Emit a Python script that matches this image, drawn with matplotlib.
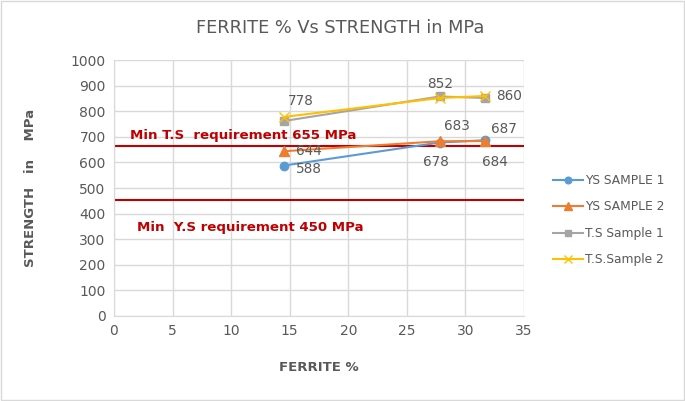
import matplotlib.pyplot as plt

ferrite = [14.5, 27.8, 31.7]
ys1 = [588, 678, 687]
ys2 = [644, 683, 684]
ts1 = [762, 858, 852]
ts2 = [778, 852, 860]

ts_min = 665
ys_min = 452

fig = plt.figure(figsize=(6.85, 4.01), dpi=100)
fig.patch.set_facecolor('white')
ax = fig.add_axes([0.1664, 0.212, 0.5986, 0.638])

gray = '#595959'
ax.plot(ferrite, ys1, color='#5B9BD5', marker='o', markersize=6, lw=1.5, label='YS SAMPLE 1', zorder=3)
ax.plot(ferrite, ys2, color='#ED7D31', marker='^', markersize=7, lw=1.5, label='YS SAMPLE 2', zorder=3)
ax.plot(ferrite, ts1, color='#A5A5A5', marker='s', markersize=6, lw=1.5, label='T.S Sample 1', zorder=3)
ax.plot(ferrite, ts2, color='#FFC000', marker='x', markersize=7, lw=1.5, label='T.S.Sample 2', zorder=4)

ax.axhline(ts_min, color='#C00000', lw=1.5, zorder=2)
ax.axhline(ys_min, color='#C00000', lw=1.5, zorder=2)

ax.set_xlim(0, 35)
ax.set_ylim(0, 1000)
ax.set_xticks(range(0, 36, 5))
ax.set_yticks(range(0, 1001, 100))
ax.grid(True, color='#D9D9D9', lw=1)
ax.set_axisbelow(True)
for s in ['top', 'right']:
    ax.spines[s].set_visible(False)
for s in ['left', 'bottom']:
    ax.spines[s].set_color('#D9D9D9')
ax.tick_params(colors=gray, labelsize=10, length=0, pad=6)

lab = dict(color=gray, fontsize=9.8, textcoords='offset points', va='center')
p = 0.72  # px -> pt
ax.annotate(str(ys1[0]), (ferrite[0], ys1[0]), xytext=(12*p, -3*p), ha='left', **lab)
ax.annotate(str(ys2[0]), (ferrite[0], ys2[0]), xytext=(12*p, 0), ha='left', **lab)
ax.annotate(str(ts2[0]), (ferrite[0], ts2[0]), xytext=(4*p, 16*p), ha='left', **lab)
ax.annotate(str(ys2[1]), (ferrite[1], ys2[1]), xytext=(17*p, 15*p), ha='center', **lab)
ax.annotate(str(ys1[1]), (ferrite[1], ys1[1]), xytext=(-4*p, -19*p), ha='center', **lab)
ax.annotate(str(ts2[1]), (ferrite[1], ts2[1]), xytext=(0, 14*p), ha='center', **lab)
ax.annotate(str(ts2[2]), (ferrite[2], ts2[2]), xytext=(11*p, 0), ha='left', **lab)
ax.annotate(str(ys1[2]), (ferrite[2], ys1[2]), xytext=(19*p, 11*p), ha='center', **lab)
ax.annotate(str(ys2[2]), (ferrite[2], ys2[2]), xytext=(10*p, -21*p), ha='center', **lab)

ax.text(1.35, 707, 'Min T.S  requirement 655 MPa', color='#C00000', fontsize=9.6, fontweight='bold', va='center', ha='left')
ax.text(1.95, 344, 'Min  Y.S requirement 450 MPa', color='#C00000', fontsize=9.6, fontweight='bold', va='center', ha='left')

fig.text(0.497, 0.93, 'FERRITE % Vs STRENGTH in MPa', color=gray, fontsize=12.8, ha='center', va='center')
ax.set_xlabel('FERRITE %', color=gray, fontsize=9.5, fontweight='bold', labelpad=16)
ax.set_ylabel('STRENGTH   in    MPa', color=gray, fontsize=9.5, fontweight='bold', labelpad=24)

leg = fig.legend(loc='center left', bbox_to_anchor=(0.808, 0.451), frameon=False, fontsize=8.8,
                 labelcolor=gray, handlelength=2.4, labelspacing=1.1, handletextpad=0.2, markerscale=0.8,
                 borderaxespad=0, borderpad=0)

border = plt.Rectangle((0.002, 0.002), 0.996, 0.996, transform=fig.transFigure, fill=False, edgecolor='#D9D9D9', lw=1)
fig.patches.append(border)

fig.savefig('out.png', dpi=100)
